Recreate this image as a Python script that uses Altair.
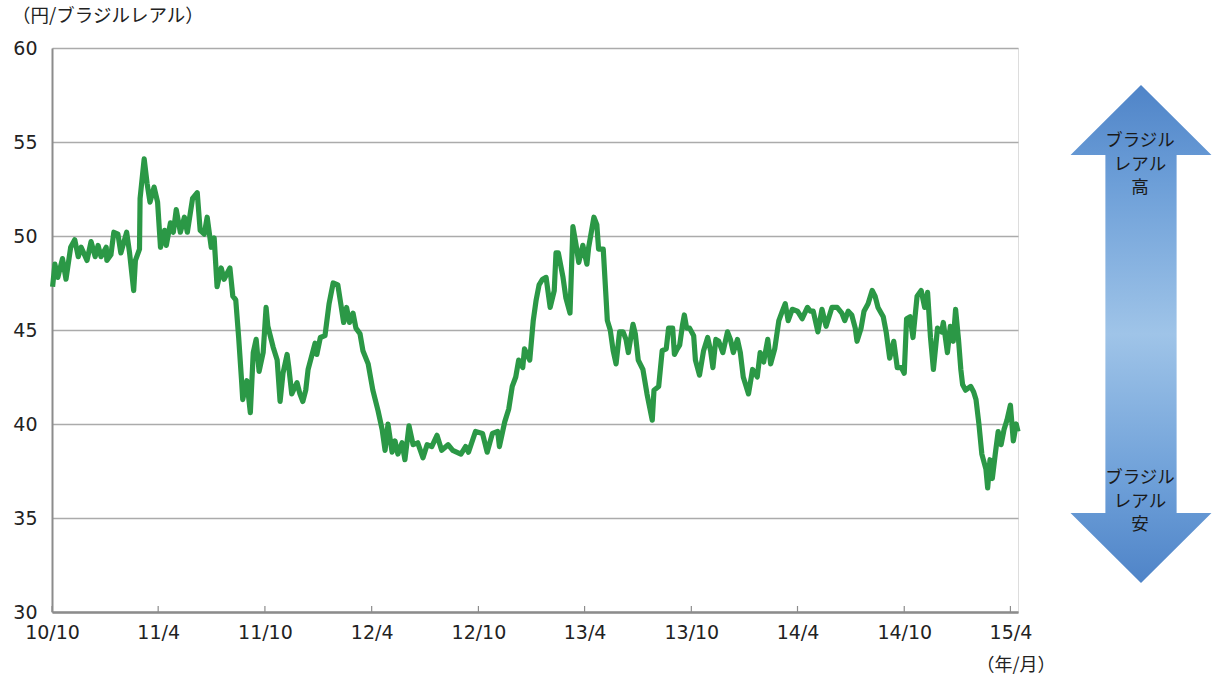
import altair as alt
import pandas as pd

# ---- data ----
dates = [
    "2010-10-02","2010-10-06","2010-10-11","2010-10-19","2010-10-25","2010-11-02","2010-11-09","2010-11-15",
    "2010-11-20","2010-11-30","2010-12-07","2010-12-14","2010-12-19","2010-12-24","2011-01-02","2011-01-03",
    "2011-01-10","2011-01-15","2011-01-22","2011-01-27","2011-02-06","2011-02-11","2011-02-18","2011-02-21",
    "2011-02-28","2011-03-01","2011-03-08","2011-03-13","2011-03-18","2011-03-25","2011-03-31","2011-04-05",
    "2011-04-12","2011-04-15","2011-04-22","2011-04-27","2011-05-02","2011-05-09","2011-05-16","2011-05-21",
    "2011-05-30","2011-06-07","2011-06-12","2011-06-19","2011-06-24","2011-07-01","2011-07-06","2011-07-11",
    "2011-07-18","2011-07-23","2011-08-02","2011-08-07","2011-08-12","2011-08-17","2011-08-22","2011-08-24",
    "2011-08-31","2011-09-06","2011-09-11","2011-09-16","2011-09-21","2011-09-28","2011-10-03","2011-10-06",
    "2011-10-15","2011-10-22","2011-10-27","2011-11-01","2011-11-08","2011-11-11","2011-11-16","2011-11-25",
    "2011-11-30","2011-12-05","2011-12-10","2011-12-14","2011-12-26","2011-12-29","2012-01-04","2012-01-12",
    "2012-01-19","2012-01-26","2012-02-03","2012-02-08","2012-02-13","2012-02-18","2012-02-23","2012-02-29",
    "2012-03-05","2012-03-12","2012-03-17","2012-03-26","2012-04-03","2012-04-12","2012-04-19","2012-04-24",
    "2012-04-29","2012-05-06","2012-05-11","2012-05-16","2012-05-23","2012-05-28","2012-06-04","2012-06-11",
    "2012-06-19","2012-06-28","2012-07-05","2012-07-13","2012-07-22","2012-07-30","2012-08-10","2012-08-18",
    "2012-09-01","2012-09-09","2012-09-14","2012-09-26","2012-10-08","2012-10-16","2012-10-25","2012-11-03",
    "2012-11-06","2012-11-15","2012-11-22","2012-11-28","2012-12-04","2012-12-09","2012-12-16","2012-12-19",
    "2012-12-28","2013-01-03","2013-01-08","2013-01-13","2013-01-19","2013-01-25","2013-02-01","2013-02-08",
    "2013-02-11","2013-02-15","2013-02-23","2013-02-28","2013-03-07","2013-03-12","2013-03-17","2013-03-22",
    "2013-03-29","2013-04-05","2013-04-08","2013-04-17","2013-04-22","2013-04-25","2013-05-03","2013-05-08",
    "2013-05-10","2013-05-15","2013-05-20","2013-05-25","2013-05-31","2013-06-06","2013-06-11","2013-06-15",
    "2013-06-23","2013-06-27","2013-07-02","2013-07-10","2013-07-17","2013-07-26","2013-07-29","2013-08-06",
    "2013-08-12","2013-08-19","2013-08-23","2013-08-30","2013-09-02","2013-09-07","2013-09-11","2013-09-16",
    "2013-09-19","2013-09-23","2013-09-28","2013-10-05","2013-10-08","2013-10-15","2013-10-22","2013-10-29",
    "2013-11-03","2013-11-07","2013-11-12","2013-11-17","2013-11-24","2013-12-02","2013-12-07","2013-12-12",
    "2013-12-19","2013-12-24","2013-12-29","2014-01-07","2014-01-14","2014-01-22","2014-01-27","2014-02-02",
    "2014-02-09","2014-02-14","2014-02-21","2014-02-28","2014-03-06","2014-03-11","2014-03-16","2014-03-23",
    "2014-04-01","2014-04-09","2014-04-18","2014-04-23","2014-04-28","2014-05-06","2014-05-13","2014-05-20",
    "2014-05-30","2014-06-08","2014-06-16","2014-06-21","2014-06-27","2014-07-03","2014-07-09","2014-07-12",
    "2014-07-19","2014-07-24","2014-07-31","2014-08-07","2014-08-12","2014-08-17","2014-08-26","2014-08-31",
    "2014-09-06","2014-09-13","2014-09-19","2014-09-26","2014-10-01","2014-10-05","2014-10-11","2014-10-16",
    "2014-10-23","2014-10-30","2014-11-05","2014-11-10","2014-11-15","2014-11-20","2014-11-27","2014-12-04",
    "2014-12-07","2014-12-14","2014-12-19","2014-12-24","2014-12-28","2015-01-02","2015-01-06","2015-01-09",
    "2015-01-14","2015-01-23","2015-01-28","2015-02-01","2015-02-06","2015-02-11","2015-02-18","2015-02-21",
    "2015-02-25","2015-03-01","2015-03-06","2015-03-11","2015-03-16","2015-03-21","2015-03-26","2015-04-01",
    "2015-04-06","2015-04-11","2015-04-14",
]
values = [
    47.3, 48.5, 47.8, 48.8, 47.7, 49.4, 49.8, 48.9,
    49.4, 48.7, 49.7, 48.9, 49.5, 48.9, 49.4, 48.7,
    49.0, 50.2, 50.1, 49.1, 50.2, 49.1, 47.1, 48.7,
    49.3, 52.0, 54.1, 52.8, 51.8, 52.6, 51.8, 49.4,
    50.3, 49.5, 50.7, 50.2, 51.4, 50.2, 51.0, 50.2,
    52.0, 52.3, 50.3, 50.1, 51.0, 49.4, 49.9, 47.3,
    48.3, 47.7, 48.3, 46.8, 46.6, 44.6, 42.3, 41.3,
    42.3, 40.6, 43.8, 44.5, 42.8, 43.8, 46.2, 45.2,
    44.1, 43.4, 41.2, 42.7, 43.7, 43.0, 41.6, 42.2,
    41.6, 41.2, 41.8, 42.9, 44.3, 43.7, 44.6, 44.7,
    46.4, 47.5, 47.4, 46.4, 45.4, 46.2, 45.4, 45.9,
    45.1, 44.8, 43.9, 43.2, 41.8, 40.7, 39.7, 38.6,
    40.0, 38.5, 39.1, 38.4, 39.0, 38.1, 39.9, 38.9,
    39.0, 38.2, 38.9, 38.8, 39.4, 38.6, 38.9, 38.6,
    38.4, 38.8, 38.5, 39.6, 39.5, 38.5, 39.5, 39.6,
    38.8, 40.1, 40.8, 42.0, 42.5, 43.4, 43.0, 44.0,
    43.4, 45.5, 46.6, 47.4, 47.7, 47.8, 46.2, 47.1,
    49.1, 49.1, 47.8, 46.7, 45.9, 50.5, 49.6, 48.6,
    49.5, 48.5, 49.4, 51.0, 50.6, 49.3, 49.3, 46.6,
    45.5, 45.0, 43.9, 43.2, 44.9, 44.9, 44.5, 43.8,
    45.3, 44.8, 43.4, 42.9, 41.6, 40.2, 41.8, 42.0,
    43.9, 44.0, 45.1, 45.1, 43.7, 44.0, 44.2, 45.3,
    45.8, 45.1, 45.1, 44.7, 43.4, 42.6, 43.9, 44.6,
    43.9, 43.0, 44.5, 44.4, 43.8, 44.9, 44.5, 43.8,
    44.5, 43.8, 42.5, 41.6, 42.9, 42.5, 43.8, 43.3,
    44.5, 43.2, 44.0, 45.5, 46.0, 46.4, 45.5, 46.1,
    46.0, 45.6, 46.2, 46.0, 46.0, 44.9, 46.1, 45.2,
    46.2, 46.2, 45.9, 45.5, 46.0, 45.8, 45.1, 44.4,
    45.1, 46.0, 46.4, 47.1, 46.8, 46.2, 45.7, 44.9,
    43.5, 44.4, 43.0, 43.0, 42.7, 45.6, 45.7, 44.6,
    46.8, 47.1, 46.2, 47.0, 44.6, 42.9, 45.1, 44.9,
    45.4, 43.8, 45.2, 44.4, 46.1, 44.5, 42.9, 42.1,
    41.8, 42.0, 41.7, 41.3, 40.0, 38.4, 37.6, 36.6,
    38.1, 37.1, 38.4, 39.6, 38.9, 39.7, 40.2, 41.0,
    39.1, 40.0, 39.6,
]
tick_dates = ["2010-10-01", "2011-04-01", "2011-10-01", "2012-04-01", "2012-10-01",
              "2013-04-01", "2013-10-01", "2014-04-01", "2014-10-01", "2015-04-01"]
y_ticks = [30, 35, 40, 45, 50, 55, 60]
y_unit = "（円/ブラジルレアル）"
x_unit = "（年/月）"
arrow_top_lines = ["ブラジル", "レアル", "高"]
arrow_bottom_lines = ["ブラジル", "レアル", "安"]

df = pd.DataFrame({"date": pd.to_datetime(dates), "rate": values})
ticks_df = pd.DataFrame({"date": pd.to_datetime(tick_dates)})

W, H = 966, 564
NUM_FONT = "DejaVu Sans"
JP_FONT = "Noto Sans CJK JP"

x_scale = alt.Scale(domain=[alt.DateTime(year=2010, month=10, date=1),
                            alt.DateTime(year=2015, month=4, date=14)], nice=False)
tick_vals = [alt.DateTime(year=int(d[:4]), month=int(d[5:7]), date=1) for d in tick_dates]

line = alt.Chart(df).mark_line(color="#2b9846", strokeWidth=5.2, strokeJoin="round").encode(
    x=alt.X("date:T", scale=x_scale, title=None,
            axis=alt.Axis(values=tick_vals, labelExpr="timeFormat(datum.value, '%y/%-m')",
                          grid=False, ticks=False, domainColor="#8c8c8c", domainWidth=2.5,
                          labelFont=NUM_FONT, labelFontSize=19, labelColor="#222222",
                          labelPadding=11, labelFlush=False)),
    y=alt.Y("rate:Q", scale=alt.Scale(domain=[30, 60], nice=False, zero=False), title=None,
            axis=alt.Axis(values=y_ticks, grid=True, gridColor="#ababab", gridWidth=1.4,
                          ticks=False, domainColor="#8c8c8c", domainWidth=2,
                          labelFont=NUM_FONT, labelFontSize=19, labelColor="#222222",
                          labelPadding=15)),
)

xticks = alt.Chart(ticks_df).mark_rule(color="#8c8c8c", strokeWidth=1.2).encode(
    x=alt.X("date:T", scale=x_scale),
    y=alt.value(H - 6), y2=alt.value(H),
)

one = pd.DataFrame({"k": [0]})

y_title = alt.Chart(pd.DataFrame({"t": [y_unit]})).mark_text(
    font=JP_FONT, fontSize=18.5, color="#222222", align="left", baseline="middle"
).encode(text="t:N", x=alt.value(-40), y=alt.value(-32))

x_title = alt.Chart(pd.DataFrame({"t": [x_unit]})).mark_text(
    font=JP_FONT, fontSize=18, color="#222222", align="center", baseline="middle"
).encode(text="t:N", x=alt.value(964), y=alt.value(618))

arrow_path = ("M0,-1 L0.283,-0.719 L0.143,-0.719 L0.143,0.719 L0.283,0.719 L0,1 "
              "L-0.283,0.719 L-0.143,0.719 L-0.143,-0.719 L-0.283,-0.719 Z")
arrow = alt.Chart(one).mark_point(
    shape=arrow_path, filled=True, size=498 * 498, opacity=1, strokeWidth=0,
    color=alt.Gradient(gradient="linear", x1=0, y1=0, x2=0, y2=1, stops=[
        alt.GradientStop(color="#4f84c8", offset=0),
        alt.GradientStop(color="#6d9fd8", offset=0.2),
        alt.GradientStop(color="#9fc4e8", offset=0.5),
        alt.GradientStop(color="#6d9fd8", offset=0.8),
        alt.GradientStop(color="#4f84c8", offset=1),
    ]),
).encode(x=alt.value(1141 - 52), y=alt.value(334 - 48))


def text_lines(lines, y_first, gap=23.5):
    layers = []
    for i, s in enumerate(lines):
        layers.append(
            alt.Chart(pd.DataFrame({"t": [s]})).mark_text(
                font=JP_FONT, fontSize=17.5, color="#1a1a1a", align="center", baseline="middle"
            ).encode(text="t:N", x=alt.value(1140 - 52), y=alt.value(y_first - 48 + i * gap))
        )
    return layers


chart = alt.layer(
    line, xticks, y_title, x_title, arrow,
    *text_lines(arrow_top_lines, 141), *text_lines(arrow_bottom_lines, 478),
).properties(
    width=W, height=H, autosize="none",
    padding={"left": 52, "top": 48, "right": 200, "bottom": 66},
).configure_view(stroke=None).configure(background="white")

chart.save("out.html", embed_options={"renderer": "svg", "actions": False})
